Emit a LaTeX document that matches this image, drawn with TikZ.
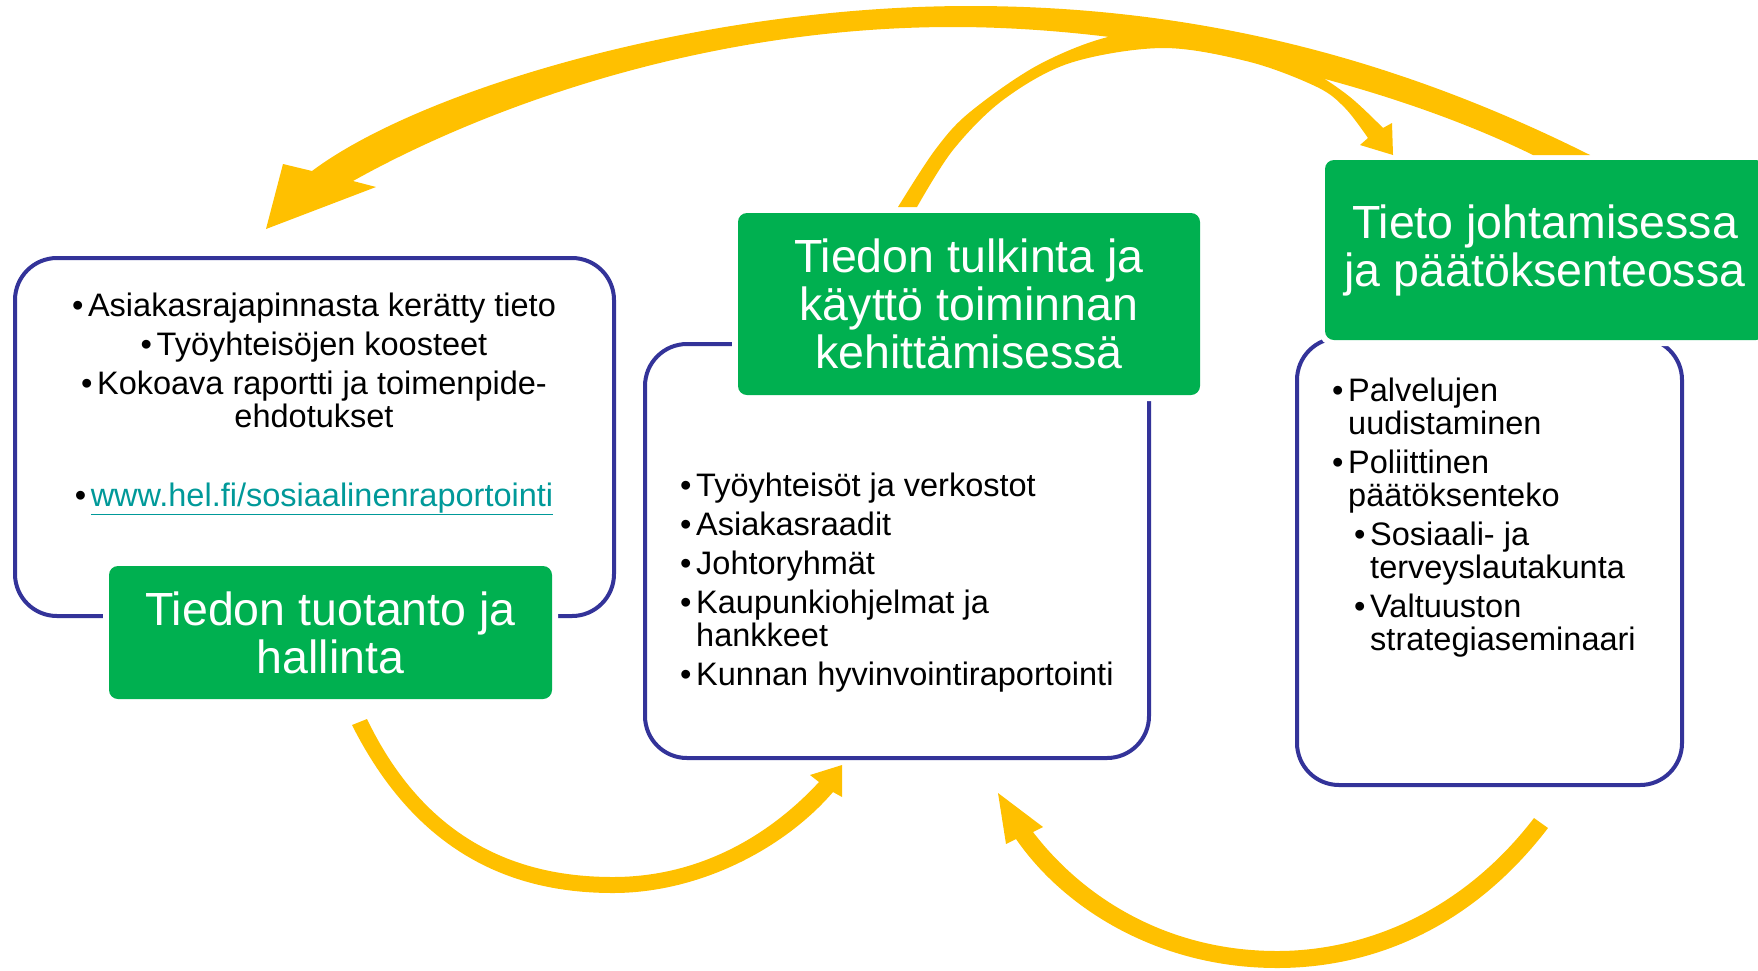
\documentclass[tikz,border=0pt]{standalone}
\usepackage{fontspec}
\setmainfont{Liberation Sans}
\usepackage{tikz}
\usepackage{xcolor}
\definecolor{stagegreen}{RGB}{0, 176, 80}
\definecolor{frameblue}{RGB}{51, 51, 153}
\definecolor{cycleyellow}{RGB}{255, 192, 0}
\definecolor{linkteal}{RGB}{0, 153, 153}
\newcommand{\bul}{\makebox[16pt][l]{•}}
\tikzset{
    framebox/.style={rectangle, draw=frameblue, line width=4pt, rounded corners=42pt, fill=white},
    stagebox/.style={rectangle, fill=stagegreen, rounded corners=9pt, text=white, align=center, inner sep=0pt, font=\fontsize{46.5}{48}\selectfont, preaction={draw=white, line width=12pt}},
    listtext/.style={inner sep=0pt, font=\fontsize{32.5}{33}\selectfont},
    cyclearrow/.style={fill=cycleyellow}
}

\begin{document}
\begin{tikzpicture}[x=1pt, y=-1pt]
    \useasboundingbox (0,0) rectangle (1758,970);
    % Frames
    \node[framebox, minimum width=599pt, minimum height=358pt] (prodframe) at (314.5,437) {};
    \node[framebox, minimum width=504pt, minimum height=414pt] (useframe) at (897,551) {};
    \node[framebox, minimum width=385pt, minimum height=447pt] (leadframe) at (1489.5,561.5) {};

    % Stages
    \node[stagebox, minimum width=443pt, minimum height=133pt] (prodstage) at (330.5,632.5) {Tiedon tuotanto ja\\hallinta};
    \node[stagebox, minimum width=462pt, minimum height=182pt] (usestage) at (969,304) {Tiedon tulkinta ja\\käyttö toiminnan\\kehittämisessä};
    \node[stagebox, minimum width=440pt, minimum height=180pt] (leadstage) at (1545,250) {Tieto johtamisessa\\ja päätöksenteossa};

    % Lists (base = last line)
    \node[listtext, align=center, anchor=base] (prodlist) at (314,506) {\bul Asiakasrajapinnasta kerätty tieto\\[6pt] \bul Työyhteisöjen koosteet\\[6pt] \bul Kokoava raportti ja toimenpide-\\ehdotukset\\[46pt] \bul{\color{linkteal}\underline{www.hel.fi/sosiaalinenraportointi}}};
    \node[listtext, align=left, anchor=base west] (uselist) at (680,685) {\bul Työyhteisöt ja verkostot\\[6pt] \bul Asiakasraadit\\[6pt] \bul Johtoryhmät\\[6pt] \bul Kaupunkiohjelmat ja\\\hspace*{16pt}hankkeet\\[6pt] \bul Kunnan hyvinvointiraportointi};
    \node[listtext, align=left, anchor=base west] (leadlist) at (1332,650) {\bul Palvelujen\\\hspace*{16pt}uudistaminen\\[6pt] \bul Poliittinen\\\hspace*{16pt}päätöksenteko\\[6pt] \hspace*{22pt}\bul Sosiaali- ja\\\hspace*{38pt}terveyslautakunta\\[6pt] \hspace*{22pt}\bul Valtuuston\\\hspace*{38pt}strategiaseminaari};

    % Cycle arrows
    \fill[cyclearrow] (1590,155) .. controls (1400,60) and (1200,6) .. (970,6) .. controls (700,6) and (420,90) .. (312,171)
        -- (283,164) -- (266,229) -- (376,187) -- (353,181)
        .. controls (480,110) and (700,27) .. (953,27) .. controls (1150,27) and (1380,80) .. (1533,155) -- cycle;
    \fill[cyclearrow] plot[smooth, tension=0.55] coordinates {(898,207) (935,150) (970,112) (1040,64) (1117,35) (1200,34) (1260,46) (1310,70) (1350,97) (1383,128)}
        -- (1392,123) -- (1393,155) -- (1360,145) -- (1368,138)
        -- plot[smooth, tension=0.55] coordinates {(1368,138) (1345,108) (1317,87) (1250,62) (1163,48) (1070,63) (1003,100) (953,150) (917,207)} -- cycle;
    \fill[cyclearrow] (352,725) .. controls (420,860) and (520,893) .. (613,893) .. controls (700,893) and (785,848) .. (833,792)
        -- (842,797) -- (842,765) -- (810,775) -- (819,782)
        .. controls (770,835) and (700,877) .. (613,877) .. controls (530,877) and (430,850) .. (367,719) -- cycle;
    \fill[cyclearrow] (1548,828) .. controls (1470,930) and (1370,968) .. (1277,968) .. controls (1160,968) and (1065,910) .. (1016,839)
        -- (1006,844) -- (998,793) -- (1043,827) -- (1033,832)
        .. controls (1085,900) and (1170,951) .. (1277,951) .. controls (1365,951) and (1462,912) .. (1534,818) -- cycle;
\end{tikzpicture}
\end{document}
